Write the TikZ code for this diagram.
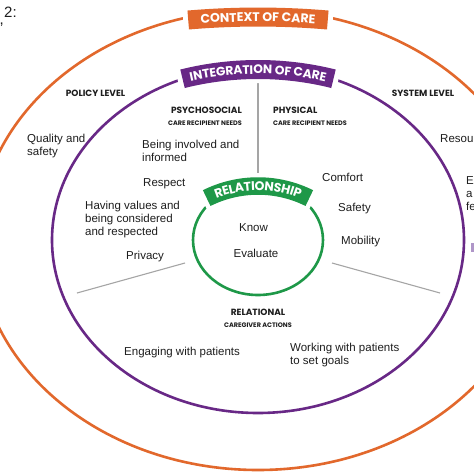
\documentclass[tikz,border=0pt]{standalone}
\usepackage{fontspec}
\setmainfont{Liberation Sans}
\newfontfamily\hf{Poppins}
\usetikzlibrary{decorations.text}
\definecolor{corange}{RGB}{226,104,44}
\definecolor{cpurple}{RGB}{104,40,134}
\definecolor{cgreen}{RGB}{30,152,72}
\definecolor{cgray}{RGB}{165,165,165}
\definecolor{ctext}{RGB}{30,30,30}
\definecolor{clpurple}{RGB}{175,150,200}
% #1 colour, #2 y of band centre line (px), #3 radius, #4 half angle, #5 thickness, #6 text, #7 font size
\newcommand\careband[7]{%
  \coordinate (bc) at (258,{-(#2+#3)});
  \pgfmathsetmacro\ha{#4}%
  \pgfmathsetmacro\hb{#4+5/#3*57.3}%
  \pgfmathsetmacro\lw{#5+8}%
  \pgfmathsetmacro\rs{-0.36*#7}%
  \draw[white, line width=\lw pt] ([shift={(90+\hb:#3)}]bc) arc[start angle=90+\hb, end angle=90-\hb, radius=#3];
  \draw[#1, line width=#5 pt] ([shift={(90+\ha:#3)}]bc) arc[start angle=90+\ha, end angle=90-\ha, radius=#3];
  \path[decorate, decoration={text along path, text align=center, raise=\rs pt,
      text={|\color{white}\hf\bfseries\fontsize{#7}{#7}\selectfont|#6}}]
    ([shift={(90+\ha:#3)}]bc) arc[start angle=90+\ha, end angle=90-\ha, radius=#3];
}
\begin{document}
\begin{tikzpicture}[x=1pt,y=1pt,
  body/.style={font=\fontsize{11.5}{13}\selectfont, text=ctext, inner sep=0pt, align=left},
  head/.style={font=\hf\bfseries\fontsize{9}{10}\selectfont, text=ctext, inner sep=0pt},
  sub/.style={font=\hf\bfseries\fontsize{6.5}{7}\selectfont, text=ctext, inner sep=0pt},
  ring/.style={line width=2.6pt},
  divider/.style={cgray, line width=1.1pt},
]
\useasboundingbox (0,0) rectangle (474,-474);
\clip (0,0) rectangle (474,-474);
\fill[white] (0,0) rectangle (474,-474);

% rings
\draw[ring, corange] (258,-240) ellipse [x radius=280, y radius=230];
\draw[ring, cpurple] (258,-240) ellipse [x radius=206, y radius=173];
\draw[ring, cgreen] (258,-240) ellipse [x radius=65, y radius=55];

% dividers
\coordinate (v1) at (258,-82);  \coordinate (v2) at (258,-173);
\coordinate (l1) at (185,-263); \coordinate (l2) at (77,-293);
\coordinate (r1) at (332,-263); \coordinate (r2) at (440,-293);
\draw[divider] (v1) -- (v2);
\draw[divider] (l1) -- (l2);
\draw[divider] (r1) -- (r2);

% bands
\careband{corange}{17}{817}{4.9}{19}{CONTEXT OF CARE}{12.5}
\careband{cpurple}{69.5}{312}{14}{19}{INTEGRATION OF CARE}{12.3}
\careband{cgreen}{186}{115}{26.5}{17.5}{RELATIONSHIP}{12.5}

% headings
\node[head] (policy) at (95.5,-93) {POLICY LEVEL};
\node[head] (system) at (423,-93) {SYSTEM LEVEL};
\node[head, anchor=east] (psycho) at (242,-110) {PSYCHOSOCIAL};
\node[sub, anchor=east] (psychosub) at (242,-123) {CARE RECIPIENT NEEDS};
\node[head, anchor=west] (phys) at (273,-110) {PHYSICAL};
\node[sub, anchor=west] (physsub) at (273,-123) {CARE RECIPIENT NEEDS};
\node[head] (relational) at (258,-312) {RELATIONAL};
\node[sub] (relsub) at (258,-325) {CAREGIVER ACTIONS};

% body texts
\node[body, anchor=west] (quality) at (27,-146) {Quality and\\safety};
\node[body, anchor=west] (involved) at (142,-151) {Being involved and\\informed};
\node[body, anchor=west] (respect) at (143,-184) {Respect};
\node[body, anchor=west] (values) at (85,-220) {Having values and\\being considered\\and respected};
\node[body, anchor=west] (privacy) at (126,-257) {Privacy};
\node[body, anchor=west] (comfort) at (322,-177) {Comfort};
\node[body, anchor=west] (safety) at (338,-209) {Safety};
\node[body, anchor=west] (mobility) at (341,-242) {Mobility};
\node[body] (know) at (253.5,-228) {Know};
\node[body] (evaluate) at (256,-253) {Evaluate};
\node[body, anchor=west] (engaging) at (124,-353) {Engaging with patients};
\node[body, anchor=west] (working) at (290,-355) {Working with patients\\to set goals};
\node[body, anchor=west] (resources) at (440,-139) {Resources};
\node[body, anchor=west] (efe) at (466,-193.5) {E\\a\\fe};

% fragments at the edges
\node[body, font=\fontsize{15}{17}\selectfont, anchor=west] (two) at (4,-12) {2:};
\node[body, font=\fontsize{15}{17}\selectfont, anchor=west] (comma) at (-0.5,-25) {,};
\fill[clpurple] (471,-243) rectangle (474,-252);
\end{tikzpicture}
\end{document}
